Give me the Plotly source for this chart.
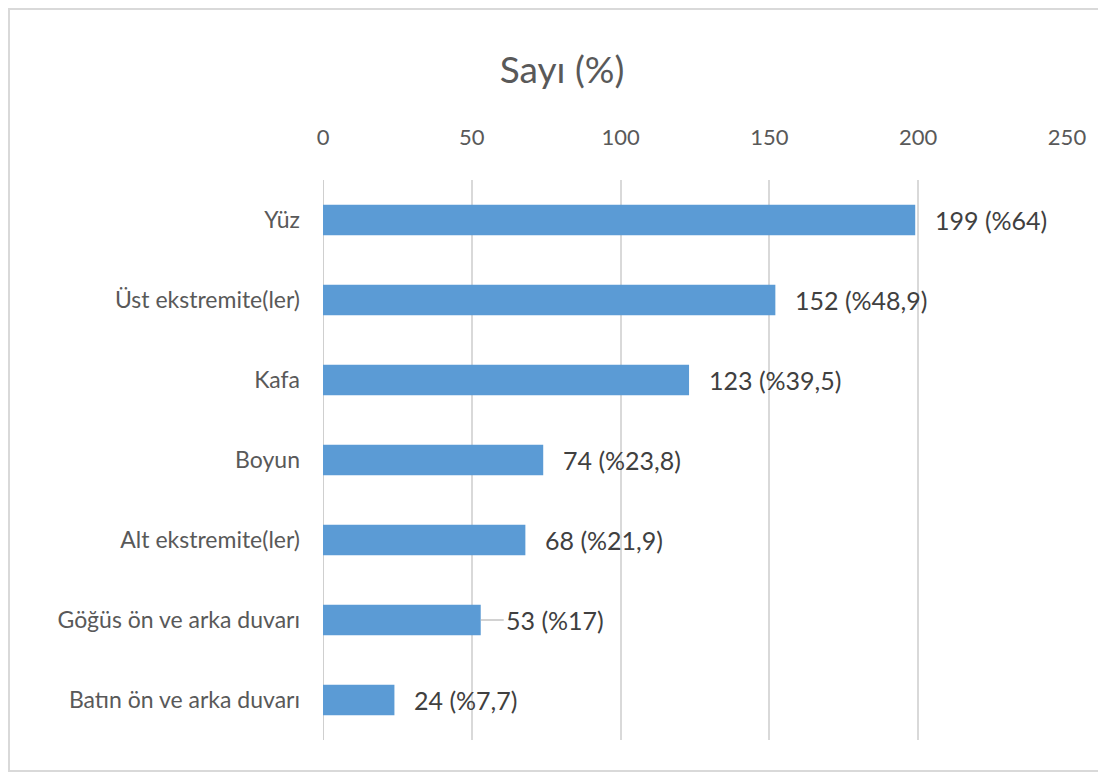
import plotly.graph_objects as go

categories = ["Yüz", "Üst ekstremite(ler)", "Kafa", "Boyun", "Alt ekstremite(ler)",
              "Göğüs ön ve arka duvarı", "Batın ön ve arka duvarı"]
counts = [199, 152, 123, 74, 68, 53, 24]
percents = ["64", "48,9", "39,5", "23,8", "21,9", "17", "7,7"]
x_ticks = [0, 50, 100, 150, 200, 250]
leader_line = [False, False, False, False, False, True, False]

labels = [f"{c} (%{p})" for c, p in zip(counts, percents)]
FONT = "Lato, Open Sans, sans-serif"
GRAY = "#595959"

fig = go.Figure()
fig.add_trace(go.Bar(
    y=categories, x=counts, orientation="h",
    marker=dict(color="#5B9BD5", line=dict(color="#5B9BD5", width=0)),
    width=0.38, hoverinfo="skip",
))

for c, v, t, lead in zip(categories, counts, labels, leader_line):
    if lead:
        fig.add_annotation(x=v, y=c, text=t, showarrow=True, ax=23, ay=0,
                           xanchor="left", arrowhead=0, arrowwidth=1.2,
                           arrowcolor="#a6a6a6", standoff=0, startstandoff=0,
                           font=dict(size=25, color="#404040", family=FONT))
    else:
        fig.add_annotation(x=v, y=c, text=t, showarrow=False, xanchor="left",
                           xshift=18, font=dict(size=25, color="#404040", family=FONT))

W, H = 1098, 768
ml, mr, mt, mb = 315, 39, 172, 36
pw, ph = W - ml - mr, H - mt - mb

def px(x):
    return (x - ml) / pw

def py(y):
    return 1 - (y - mt) / ph

fig.add_shape(type="rect", xref="paper", yref="paper",
              x0=px(1), x1=px(1093), y0=py(1), y1=py(763),
              line=dict(color="#d9d9d9", width=2), fillcolor="rgba(0,0,0,0)", layer="below")

fig.update_layout(
    width=W, height=H,
    margin=dict(l=ml, r=mr, t=mt, b=mb),
    paper_bgcolor="white", plot_bgcolor="white",
    showlegend=False,
    title=dict(text="Sayı (%)", x=554 / W, xref="container", xanchor="center",
               y=1 - 62 / H, yanchor="middle",
               font=dict(size=37, color=GRAY, family=FONT)),
    xaxis=dict(side="top", range=[0, 250], tickvals=x_ticks, showgrid=True,
               gridcolor="#d9d9d9", gridwidth=1.5, zeroline=False, showline=False,
               ticks="", ticklabelstandoff=30,
               tickfont=dict(size=22, color=GRAY, family=FONT), fixedrange=True),
    yaxis=dict(autorange="reversed", showgrid=False, zeroline=False,
               showline=False, ticks="", ticklabelstandoff=22,
               tickfont=dict(size=23, color=GRAY, family=FONT), fixedrange=True),
)
fig.add_shape(type="line", xref="x", yref="paper", x0=0, x1=0, y0=0, y1=1,
              line=dict(color="#bfbfbf", width=1.5), layer="below")

fig.write_html("out.html")
